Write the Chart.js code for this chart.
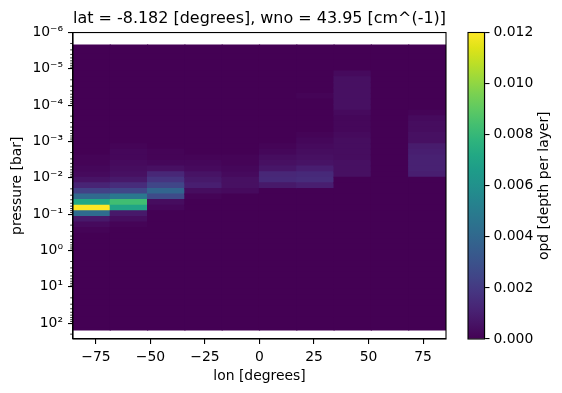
<!DOCTYPE html>
<html>
<head>
<meta charset="utf-8">
<script src="https://cdn.jsdelivr.net/npm/chart.js@4.4.1/dist/chart.umd.min.js"></script>
<style>
  html, body { margin: 0; padding: 0; background: #fff; }
  #wrap { position: relative; width: 562px; height: 393px; overflow: hidden; }
  #main { position: absolute; left: 0; top: 0; }
  #cbar { position: absolute; left: 450px; top: 0; }
</style>
</head>
<body>
<div id="wrap">
  <canvas id="main" width="562" height="393"></canvas>
  <canvas id="cbar" width="112" height="393"></canvas>
</div>
<script>
// =============================
// DATA
// =============================
const lonCenters = [-76.95, -59.85, -42.75, -25.65, -8.55, 8.55, 25.65, 42.75, 59.85, 76.95];
const xTicks = [-75, -50, -25, 0, 25, 50, 75];
const yMajorTicks = [1e-6, 1e-5, 1e-4, 1e-3, 1e-2, 1e-1, 1e0, 1e1, 1e2];
const cbarTicks = [0, 0.002, 0.004, 0.006, 0.008, 0.01, 0.012];

// pressure layer grid (bar): partial top/bottom cells + 51 log-even boundaries
const pTopEdge = 2.208e-6;
const pFirstBoundary = 2.799e-6;
const pBottomEdge = 153.8;
const layerRatio = Math.pow(10, 8 / 52);
const pressureEdges = [pTopEdge];
for (let k = 0; k <= 50; k++) pressureEdges.push(pFirstBoundary * Math.pow(layerRatio, k));
pressureEdges.push(pBottomEdge);

// opd per layer (52 rows, top -> bottom), one array per longitude
const opdLonM77 = [
  0, 0, 0, 0, 0, 0, 0, 0, 0, 0, 0, 0, 0,
  0, 0, 0, 0, 0, 0, 0, 0.0001, 0.0001, 0.0002, 0.0003, 0.0006, 0.0012,
  0.0023, 0.0041, 0.0072, 0.012, 0.0042, 0.0008, 0.0003, 0.0001, 0, 0, 0, 0, 0,
  0, 0, 0, 0, 0, 0, 0, 0, 0, 0, 0, 0, 0
];
const opdLonM60 = [
  0, 0, 0, 0, 0, 0, 0, 0, 0, 0, 0, 0, 0,
  0, 0, 0, 0, 0, 0.0001, 0.0002, 0.0002, 0.0003, 0.0004, 0.0005, 0.0008, 0.0015,
  0.0025, 0.0048, 0.0083, 0.007, 0.0008, 0.0004, 0.0001, 0, 0, 0, 0, 0, 0,
  0, 0, 0, 0, 0, 0, 0, 0, 0, 0, 0, 0, 0
];
const opdLonM43 = [
  0, 0, 0, 0, 0, 0, 0, 0, 0, 0, 0, 0, 0,
  0, 0, 0, 0, 0, 0, 0.0001, 0.0001, 0.0002, 0.0005, 0.0013, 0.0018, 0.0025,
  0.0039, 0.0027, 0.0004, 0.0002, 0, 0, 0, 0, 0, 0, 0, 0, 0,
  0, 0, 0, 0, 0, 0, 0, 0, 0, 0, 0, 0, 0
];
const opdLonM26 = [
  0, 0, 0, 0, 0, 0, 0, 0, 0, 0, 0, 0, 0,
  0, 0, 0, 0, 0, 0, 0, 0.0001, 0.0002, 0.0003, 0.0006, 0.0008, 0.001,
  0.0004, 0.0001, 0, 0, 0, 0, 0, 0, 0, 0, 0, 0, 0,
  0, 0, 0, 0, 0, 0, 0, 0, 0, 0, 0, 0, 0
];
const opdLonM9 = [
  0, 0, 0, 0, 0, 0, 0, 0, 0, 0, 0, 0, 0,
  0, 0, 0, 0, 0, 0, 0, 0.0001, 0.0001, 0.0002, 0.0003, 0.0005, 0.0005,
  0.0003, 0, 0, 0, 0, 0, 0, 0, 0, 0, 0, 0, 0,
  0, 0, 0, 0, 0, 0, 0, 0, 0, 0, 0, 0, 0
];
const opdLonP9 = [
  0, 0, 0, 0, 0, 0, 0, 0, 0, 0, 0, 0, 0,
  0, 0, 0, 0, 0, 0.0001, 0.0002, 0.0004, 0.0005, 0.0007, 0.0013, 0.0014, 0.0008,
  0, 0, 0, 0, 0, 0, 0, 0, 0, 0, 0, 0, 0,
  0, 0, 0, 0, 0, 0, 0, 0, 0, 0, 0, 0, 0
];
const opdLonP26 = [
  0, 0, 0, 0, 0, 0, 0, 0, 0, 0.0001, 0, 0, 0,
  0, 0, 0, 0.0001, 0.0002, 0.0003, 0.0004, 0.0005, 0.0006, 0.001, 0.0014, 0.0015, 0.001,
  0, 0, 0, 0, 0, 0, 0, 0, 0, 0, 0, 0, 0,
  0, 0, 0, 0, 0, 0, 0, 0, 0, 0, 0, 0, 0
];
const opdLonP43 = [
  0, 0, 0, 0, 0, 0.0003, 0.0005, 0.0005, 0.0005, 0.0005, 0.0005, 0.0005, 0.0003,
  0.0002, 0.0002, 0.0002, 0.0003, 0.0004, 0.0004, 0.0004, 0.0004, 0.0005, 0.0005, 0.0005, 0, 0,
  0, 0, 0, 0, 0, 0, 0, 0, 0, 0, 0, 0, 0,
  0, 0, 0, 0, 0, 0, 0, 0, 0, 0, 0, 0, 0
];
const opdLonP60 = [
  0, 0, 0, 0, 0, 0, 0, 0, 0, 0, 0, 0, 0,
  0, 0, 0, 0, 0, 0, 0, 0, 0, 0, 0, 0, 0,
  0, 0, 0, 0, 0, 0, 0, 0, 0, 0, 0, 0, 0,
  0, 0, 0, 0, 0, 0, 0, 0, 0, 0, 0, 0, 0
];
const opdLonP77 = [
  0, 0, 0, 0, 0, 0, 0, 0, 0, 0, 0, 0, 0.0001,
  0.0003, 0.0004, 0.0004, 0.0005, 0.0005, 0.0009, 0.001, 0.0011, 0.0011, 0.0011, 0.001, 0, 0,
  0, 0, 0, 0, 0, 0, 0, 0, 0, 0, 0, 0, 0,
  0, 0, 0, 0, 0, 0, 0, 0, 0, 0, 0, 0, 0
];
const opdColumns = [opdLonM77, opdLonM60, opdLonM43, opdLonM26, opdLonM9,
  opdLonP9, opdLonP26, opdLonP43, opdLonP60, opdLonP77];
const OPD_MAX = 0.012;

// =============================
// COLORMAP (viridis)
// =============================
const VIRIDIS = [
  "#440154", "#471365", "#482475", "#463480", "#414487", "#3b528b", "#355f8d",
  "#2f6c8e", "#2a788e", "#25848e", "#21918c", "#1e9c89", "#22a884", "#2fb47c",
  "#44bf70", "#5ec962", "#7ad151", "#9bd93c", "#bddf26", "#dfe318", "#fde725"
];
function hexRgb(h) {
  return [parseInt(h.slice(1, 3), 16), parseInt(h.slice(3, 5), 16), parseInt(h.slice(5, 7), 16)];
}
function viridis(f) {
  f = Math.min(1, Math.max(0, f));
  const pos = f * (VIRIDIS.length - 1);
  const i = Math.min(Math.floor(pos), VIRIDIS.length - 2);
  const t = pos - i;
  const a = hexRgb(VIRIDIS[i]), b = hexRgb(VIRIDIS[i + 1]);
  const c = a.map((v, k) => Math.round(v + (b[k] - v) * t));
  return `rgb(${c[0]},${c[1]},${c[2]})`;
}

const SUP = { "-": "\u207B", "0": "\u2070", "1": "\u00B9", "2": "\u00B2", "3": "\u00B3",
  "4": "\u2074", "5": "\u2075", "6": "\u2076", "7": "\u2077", "8": "\u2078", "9": "\u2079" };
function powLabel(v) {
  const e = String(Math.round(Math.log10(v)));
  return "10" + e.split("").map((ch) => SUP[ch]).join("");
}

Chart.defaults.font.family = '"DejaVu Sans", sans-serif';
Chart.defaults.font.size = 13.9;
Chart.defaults.color = "#000";

// =============================
// PLUGINS
// =============================
const framePlugin = {
  id: "frame",
  afterDatasetsDraw(chart) {
    const { ctx, chartArea: a } = chart;
    ctx.save();
    ctx.strokeStyle = "#000";
    ctx.lineWidth = 1.1;
    ctx.strokeRect(a.left, a.top, a.right - a.left, a.bottom - a.top);
    ctx.restore();
  },
};

const minorTicksPlugin = {
  id: "minorTicks",
  afterDraw(chart) {
    const y = chart.scales.y;
    const left = chart.chartArea.left;
    const ctx = chart.ctx;
    ctx.save();
    ctx.strokeStyle = "#000";
    ctx.lineWidth = 0.8;
    ctx.beginPath();
    for (let e = -7; e <= 3; e++) {
      for (let m = 2; m <= 9; m++) {
        const v = m * Math.pow(10, e);
        if (v < y.min || v > y.max) continue;
        const py = y.getPixelForValue(v);
        ctx.moveTo(left - 2.8, py);
        ctx.lineTo(left, py);
      }
    }
    ctx.stroke();
    ctx.restore();
  },
};

const cbarLabelPlugin = {
  id: "cbarLabel",
  afterDraw(chart) {
    const { ctx, chartArea: a } = chart;
    ctx.save();
    ctx.translate(a.right + 59.5, (a.top + a.bottom) / 2);
    ctx.rotate(-Math.PI / 2);
    ctx.font = '13.9px "DejaVu Sans", sans-serif';
    ctx.fillStyle = "#000";
    ctx.textAlign = "center";
    ctx.textBaseline = "middle";
    ctx.fillText("opd [depth per layer]", 0, 0);
    ctx.restore();
  },
};

// =============================
// HEATMAP
// =============================
const cells = [];
opdColumns.forEach((col, c) => {
  col.forEach((v, r) => {
    cells.push({ x: lonCenters[c], y: [pressureEdges[r], pressureEdges[r + 1]], v });
  });
});

new Chart(document.getElementById("main"), {
  type: "bar",
  data: {
    datasets: [
      {
        data: cells,
        backgroundColor: (ctx) => (ctx.raw ? viridis(ctx.raw.v / OPD_MAX) : VIRIDIS[0]),
        borderWidth: 0,
        barPercentage: 1,
        categoryPercentage: 1,
        inflateAmount: 0.6,
      },
    ],
  },
  options: {
    responsive: false,
    animation: false,
    events: [],
    devicePixelRatio: 1,
    layout: { padding: { left: 0, right: 116, top: 0, bottom: 0 } },
    plugins: {
      legend: { display: false },
      tooltip: { enabled: false },
      title: {
        display: true,
        fullSize: false,
        text: "lat = -8.182 [degrees], wno = 43.95 [cm^(-1)]",
        font: { size: 16.7, weight: "normal" },
        color: "#000",
        padding: { top: 8.5, bottom: 4 },
      },
    },
    scales: {
      x: {
        type: "linear",
        offset: false,
        min: -85.5,
        max: 85.5,
        afterBuildTicks: (s) => { s.ticks = xTicks.map((v) => ({ value: v })); },
        afterFit: (s) => { s.height = 54; },
        ticks: {
          includeBounds: false,
          autoSkip: false,
          maxRotation: 0,
          padding: 5,
          callback: (v) => (v < 0 ? "\u2212" + Math.abs(v) : String(v)),
        },
        grid: { offset: false, drawOnChartArea: false, tickLength: 5, lineWidth: 1.1, color: "#000" },
        border: { color: "#000", width: 1.1 },
        title: { display: true, text: "lon [degrees]", padding: { top: 0, bottom: 8.2 } },
      },
      y: {
        type: "logarithmic",
        reverse: true,
        min: 1e-6,
        max: 272,
        afterBuildTicks: (s) => { s.ticks = yMajorTicks.map((v) => ({ value: v })); },
        afterFit: (s) => { s.width = 73; },
        ticks: { autoSkip: false, padding: 5, callback: (v) => powLabel(v) },
        grid: { drawOnChartArea: false, tickLength: 5, lineWidth: 1.1, color: "#000" },
        border: { color: "#000", width: 1.1 },
        title: { display: true, text: "pressure [bar]", padding: { top: 9.5, bottom: 0 } },
      },
    },
  },
  plugins: [framePlugin, minorTicksPlugin],
});

// =============================
// COLORBAR
// =============================
new Chart(document.getElementById("cbar"), {
  type: "bar",
  data: {
    labels: [""],
    datasets: [
      {
        data: [[0, OPD_MAX]],
        backgroundColor: (ctx) => {
          const { chart } = ctx;
          const a = chart.chartArea;
          if (!a) return VIRIDIS[10];
          const g = chart.ctx.createLinearGradient(0, a.bottom, 0, a.top);
          VIRIDIS.forEach((hex, i) => g.addColorStop(i / (VIRIDIS.length - 1), hex));
          return g;
        },
        borderWidth: 0,
        barPercentage: 1,
        categoryPercentage: 1,
      },
    ],
  },
  options: {
    responsive: false,
    animation: false,
    events: [],
    devicePixelRatio: 1,
    layout: { padding: { left: 18, right: 0, top: 32.5, bottom: 54 } },
    plugins: { legend: { display: false }, tooltip: { enabled: false } },
    scales: {
      x: { display: false },
      y: {
        position: "right",
        min: 0,
        max: OPD_MAX,
        afterBuildTicks: (s) => { s.ticks = cbarTicks.map((v) => ({ value: v })); },
        afterFit: (s) => { s.width = 77.5; },
        ticks: { autoSkip: false, padding: 4, callback: (v) => v.toFixed(3) },
        grid: { drawOnChartArea: false, tickLength: 5, lineWidth: 1.1, color: "#000" },
        border: { color: "#000", width: 1.1 },
      },
    },
  },
  plugins: [framePlugin, cbarLabelPlugin],
});
</script>
</body>
</html>
